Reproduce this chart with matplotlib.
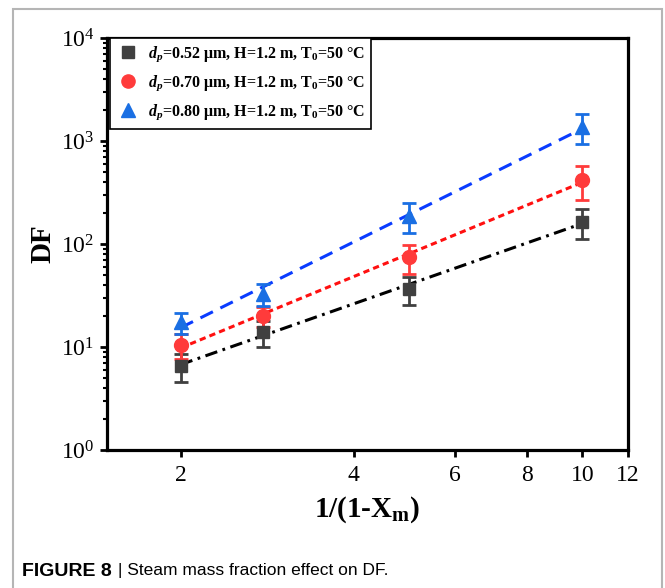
import numpy as np
import matplotlib
matplotlib.use("Agg")
import matplotlib.pyplot as plt
from matplotlib.patches import Rectangle
from matplotlib.ticker import FixedLocator, FixedFormatter, LogLocator, NullLocator

plt.rcParams["font.family"] = ["Liberation Serif", "DejaVu Serif"]
plt.rcParams["mathtext.fontset"] = "custom"
plt.rcParams["mathtext.rm"] = "Liberation Serif"
plt.rcParams["mathtext.it"] = "Liberation Serif:italic"
plt.rcParams["mathtext.bf"] = "Liberation Serif:bold"
plt.rcParams["mathtext.bfit"] = "Liberation Serif:bold:italic"
plt.rcParams["lines.scale_dashes"] = False

# x = 1/(1-Xm)
x = [2.0, 2.78, 5.0, 10.0]

# DF values and error bars
df_052 = [6.6, 14.0, 36.5, 165.0]
err_052 = [2.0, 4.0, 11.0, 52.0]
df_070 = [10.5, 20.0, 74.0, 420.0]
err_070 = [2.8, 4.5, 23.0, 150.0]
df_080 = [17.5, 33.0, 188.0, 1380.0]
err_080 = [4.0, 8.0, 60.0, 450.0]

labels = [
    r"$\mathbfit{d_p}$=0.52 μm, H=1.2 m, T$_\mathbf{0}$=50 °C",
    r"$\mathbfit{d_p}$=0.70 μm, H=1.2 m, T$_\mathbf{0}$=50 °C",
    r"$\mathbfit{d_p}$=0.80 μm, H=1.2 m, T$_\mathbf{0}$=50 °C",
]

fig = plt.figure(figsize=(6.65, 5.88), dpi=100)
ax = fig.add_axes([0.161, 0.2347, 0.783, 0.7007])

series = [
    (df_052, err_052, "s", "#404040", "#000000", (0, (9, 4, 2, 4)), 8.5, labels[0]),
    (df_070, err_070, "o", "#ff3b3b", "#ff1010", (0, (4.5, 3)), 10, labels[1]),
    (df_080, err_080, "^", "#1a6fe3", "#0a3cff", (0, (10, 6)), 10.5, labels[2]),
]

xx = np.array(x)
for y, e, m, mc, lc, ls, ms, lab in series:
    # power-law fit in log-log space
    k, b = np.polyfit(np.log10(xx), np.log10(y), 1)
    xf = np.array([xx[0], xx[-1]])
    ax.plot(xf, 10 ** (k * np.log10(xf) + b), color=lc, ls=ls, lw=2.2, zorder=2)
    ax.errorbar(x, y, yerr=e, fmt="none", ecolor=mc, elinewidth=2, capsize=5,
                capthick=2, zorder=3)
    ax.plot(x, y, ls="none", marker=m, color=mc, ms=ms, label=lab, zorder=4)

ax.set_xscale("log")
ax.set_yscale("log")
ax.set_xlim(1.49, 12)
ax.set_ylim(1, 1e4)

xt = [2, 4, 6, 8, 10, 12]
ax.xaxis.set_major_locator(FixedLocator(xt))
ax.xaxis.set_major_formatter(FixedFormatter([str(t) for t in xt]))
ax.xaxis.set_minor_locator(NullLocator())
ax.yaxis.set_major_locator(LogLocator(base=10, numticks=10))
ax.yaxis.set_minor_locator(LogLocator(base=10, subs=np.arange(2, 10), numticks=10))

for s in ax.spines.values():
    s.set_linewidth(2.3)
ax.tick_params(which="major", direction="out", length=5, width=2, labelsize=17,
               top=False, right=False, pad=6)
ax.tick_params(which="minor", direction="out", length=3, width=1.5, top=False, right=False)
ax.tick_params(axis="y", which="major", pad=4)

ax.set_xlabel(r"1/(1-X$_\mathbf{m}$)", fontsize=21, fontweight="bold", labelpad=6)
ax.set_ylabel("DF", fontsize=21, fontweight="bold", labelpad=3)

leg = ax.legend(loc="upper left", bbox_to_anchor=(0.006, 1.0), borderaxespad=0,
                frameon=True, fancybox=False, edgecolor="black", framealpha=1,
                prop={"weight": "bold", "size": 11.5}, handletextpad=0.55,
                handlelength=1.4, labelspacing=0.6, borderpad=0.4, markerscale=0.95)
leg.get_frame().set_linewidth(1.2)

# journal panel frame and caption
fig.patches.append(Rectangle((13 / 665, -0.05), 649 / 665, 1.05 - 9 / 588,
                             transform=fig.transFigure, fill=False,
                             edgecolor="#b5b5b5", lw=1.5))
fig.text(22 / 665, 1 - 571 / 588, "FIGURE 8", fontsize=14, fontweight="bold",
         family=["Liberation Sans", "DejaVu Sans"], va="center")
fig.text(118 / 665, 1 - 571 / 588, "| Steam mass fraction effect on DF.", fontsize=12.5,
         family=["Liberation Sans Narrow", "Liberation Sans", "DejaVu Sans"], va="center")

fig.savefig("out.png", dpi=100)
